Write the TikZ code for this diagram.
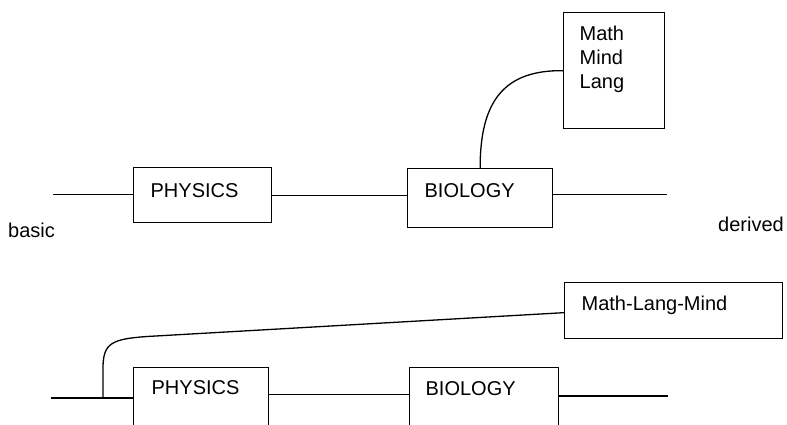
\documentclass[tikz,border=0pt]{standalone}
\usepackage{fontspec}
\setmainfont{Liberation Sans}
\begin{document}
\begin{tikzpicture}[x=1pt,y=-1pt,
  every node/.style={font=\fontsize{20}{24}\selectfont},
  wire/.style={line width=1.3pt},
  field/.style={draw, line width=1.3pt, anchor=north west, align=left, inner ysep=0pt},
  lbl/.style={anchor=base west, inner sep=0pt}]
\useasboundingbox (0,0) rectangle (787,424);
\clip (0,0) rectangle (787,424);

% upper chain: the derived field hangs off biology
\node[field, inner xsep=17pt, text width=104pt, text height=30pt, text depth=25pt] (phys1) at (133,167) {PHYSICS};
\node[field, inner xsep=17pt, text width=111pt, text height=29pt, text depth=30pt] (bio1) at (407,168) {BIOLOGY};
\node[field, inner xsep=16pt, text width=69pt, text height=28pt, text depth=88pt] (math1) at (563,12) {Math\\Mind\\Lang};
\coordinate (l1) at (53,194.5);
\coordinate (r1) at (667,194.5);
\draw[wire] (l1) -- (l1 -| phys1.west);
\draw[wire] (phys1.east) -- (phys1.east -| bio1.west);
\draw[wire] (bio1.east |- r1) -- (r1);
\draw[wire] (bio1.north) .. controls (480,100) and (505,70) .. (math1.west);

% end labels of the scale
\node[lbl] (basic) at (8,237) {basic};
\node[lbl] (derived) at (718,231) {derived};

% lower chain: the derived field branches off before physics
\node[field, inner xsep=17pt, text width=184pt, text height=28pt, text depth=28pt] (mlm) at (564,282) {Math-Lang-Mind};
\node[field, inner xsep=18pt, text width=99pt, text height=27pt, text depth=35pt] (phys2) at (133,367) {PHYSICS};
\node[field, inner xsep=16pt, text width=117pt, text height=28pt, text depth=34pt] (bio2) at (409,367) {BIOLOGY};
\coordinate (l2) at (51,398);
\coordinate (tap) at (103,398);
\coordinate (r2) at (668,396);
\draw[wire] (l2) -- (l2 -| phys2.west);
\draw[wire] ([yshift=4pt]phys2.east) -- ([yshift=4pt]phys2.east -| bio2.west);
\draw[wire] (bio2.east |- r2) -- (r2);
\draw[wire] (tap) -- (103,368) .. controls (103,343) and (112,339) .. (147,336.5) -- ([yshift=-2pt]mlm.west);
\end{tikzpicture}
\end{document}
